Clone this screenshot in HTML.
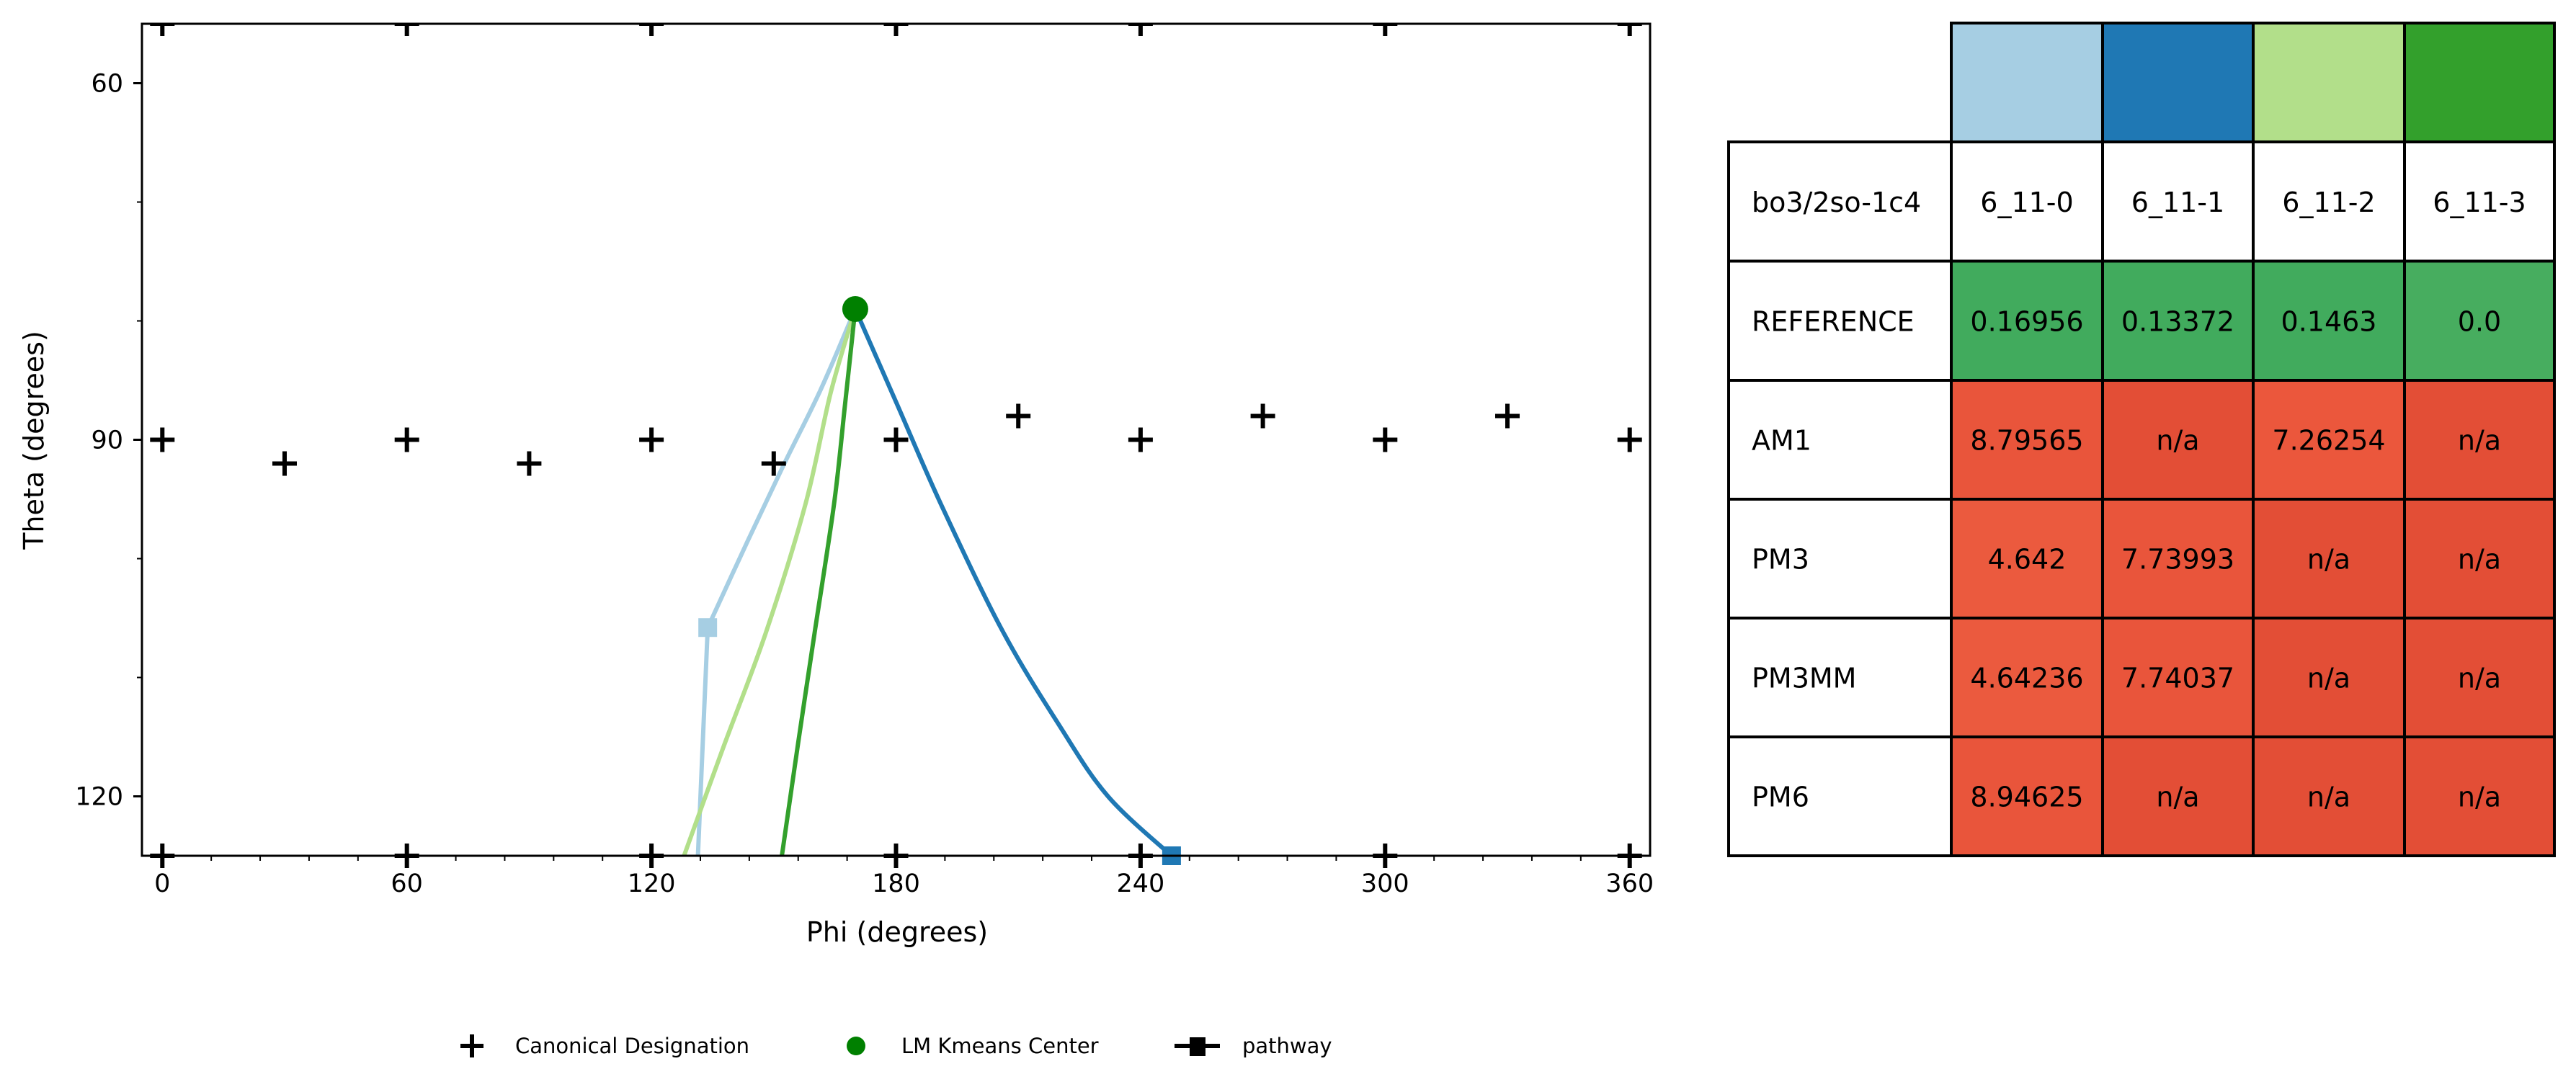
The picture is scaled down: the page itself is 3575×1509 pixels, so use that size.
<!DOCTYPE html>
<html><head><meta charset="utf-8"><style>
html,body{margin:0;padding:0;background:#fff;}
svg{display:block;font-family:"DejaVu Sans","Liberation Sans",sans-serif;}
</style></head><body>
<svg id="chart" width="3575" height="1509" viewBox="0 0 3575 1509">
<defs><clipPath id="axclip"><rect x="197" y="33" width="2093" height="1200"/></clipPath></defs>
<rect x="0" y="0" width="3575" height="1509" fill="#fff"/>
<g id="plot" clip-path="url(#axclip)"></g>
<rect x="197" y="33" width="2093" height="1155" fill="none" stroke="#000" stroke-width="3"/>
<g id="ticks"></g>
<text x="1245" y="1307" font-size="38" text-anchor="middle">Phi (degrees)</text>
<text x="0" y="0" font-size="38" text-anchor="middle" transform="translate(60,611) rotate(-90)">Theta (degrees)</text>
<g>
  <g>
    <path d="M639 1452 H671 M655 1436 V1468" stroke="#000" stroke-width="6"/>
    <text x="715" y="1462" font-size="29">Canonical Designation</text>
  </g>
  <g>
    <circle cx="1188" cy="1452" r="13" fill="#008000"/>
    <text x="1251" y="1462" font-size="29">LM Kmeans Center</text>
  </g>
  <g>
    <path d="M1630 1452 H1693" stroke="#000" stroke-width="6"/>
    <rect x="1651" y="1440" width="22" height="26" fill="#000"/>
    <text x="1724" y="1462" font-size="29">pathway</text>
  </g>
</g>
<g id="table"></g>
</svg>
<script>
const canonPhi = [0,30,60,90,120,150,180,210,240,270,300,330,360, 0,60,120,180,240,300,360, 0,60,120,180,240,300,360];
const canonTheta = [90,92,90,92,90,92,90,88,90,88,90,88,90, 55,55,55,55,55,55,55, 125,125,125,125,125,125,125];
const centerPhi = [170];
const centerTheta = [79];
const pathNames = ["6_11-0","6_11-1","6_11-2","6_11-3"];
const pathColors = ["#a6cee3","#1f78b4","#b2df8a","#33a02c"];
const path0Phi = [170,161.5,152.6,143.5,133.8,131.4];
const path0Theta = [79,85.8,92,98.6,105.8,125];
const path1Phi = [170,180.5,191,206,220,232,247.6];
const path1Theta = [79,87.2,95.4,106,114,120,125];
const path2Phi = [170,164,157.8,148,137.5,128];
const path2Theta = [79,86,95.4,106.3,116,125];
const path3Phi = [170,167.5,164.8,160,156,152];
const path3Theta = [79,87,95.4,106.3,115.5,125];
const pathEnds = [[4],[6],[],[]];
const xTicks = [0,60,120,180,240,300,360];
const yTicks = [60,90,120];
const tableCols = ["bo3/2so-1c4","6_11-0","6_11-1","6_11-2","6_11-3"];
const rowLabels = ["REFERENCE","AM1","PM3","PM3MM","PM6"];
const rowValues = [
 ["0.16956","0.13372","0.1463","0.0"],
 ["8.79565","n/a","7.26254","n/a"],
 ["4.642","7.73993","n/a","n/a"],
 ["4.64236","7.74037","n/a","n/a"],
 ["8.94625","n/a","n/a","n/a"]];
const rowColors = [
 ["#41ab5d","#41ab5d","#41ab5d","#47ad5f"],
 ["#e9553b","#e34e36","#eb573c","#e34e36"],
 ["#eb5a3e","#e9553b","#e34e36","#e34e36"],
 ["#eb5a3e","#e9553b","#e34e36","#e34e36"],
 ["#e9553b","#e34e36","#e34e36","#e34e36"]];

const NS="http://www.w3.org/2000/svg";
const X0=197,X1=2290,Y0=33,Y1=1188, XMIN=-5,XMAX=365,YMIN=55,YMAX=125;
const sx=v=>X0+(v-XMIN)/(XMAX-XMIN)*(X1-X0);
const sy=v=>Y0+(v-YMIN)/(YMAX-YMIN)*(Y1-Y0);
function mk(tag,attrs,parent){const e=document.createElementNS(NS,tag);for(const k in attrs)e.setAttribute(k,attrs[k]);parent.appendChild(e);return e;}
const plot=document.getElementById('plot');
const ticks=document.getElementById('ticks');

function smoothPath(pts,breaks){
  let d="M"+pts[0][0].toFixed(1)+" "+pts[0][1].toFixed(1);
  for(let i=0;i<pts.length-1;i++){
    const p1=pts[i],p2=pts[i+1];
    const p0=(i===0||breaks.includes(i))?p1:pts[i-1];
    const p3=(i+2>=pts.length||breaks.includes(i+1))?p2:pts[i+2];
    const c1=[p1[0]+(p2[0]-p0[0])/6,p1[1]+(p2[1]-p0[1])/6];
    const c2=[p2[0]-(p3[0]-p1[0])/6,p2[1]-(p3[1]-p1[1])/6];
    d+=`C${c1[0].toFixed(1)} ${c1[1].toFixed(1)} ${c2[0].toFixed(1)} ${c2[1].toFixed(1)} ${p2[0].toFixed(1)} ${p2[1].toFixed(1)}`;
  }
  return d;
}
const allPhi=[path0Phi,path1Phi,path2Phi,path3Phi];
const allTheta=[path0Theta,path1Theta,path2Theta,path3Theta];
for(let p=0;p<4;p++){
  const ph=allPhi[p],th=allTheta[p];
  const pts=ph.map((v,i)=>[sx(v),sy(th[i])]);
  const l=mk('path',{d:smoothPath(pts,pathEnds[p]),fill:'none',stroke:pathColors[p],'stroke-width':6,'stroke-linejoin':'round'},plot);
  
  
  for(const i of pathEnds[p]){
    const r=mk('rect',{x:sx(ph[i])-13,y:sy(th[i])-13,width:26,height:26,fill:pathColors[p]},plot);
    
    
  }
}
for(let i=0;i<canonPhi.length;i++){
  const x=sx(canonPhi[i]),y=sy(canonTheta[i]);
  const c=mk('path',{d:`M${x-17} ${y}H${x+17}M${x} ${y-17}V${y+17}`,stroke:'#000','stroke-width':6},plot);
  
  
}
for(let i=0;i<centerPhi.length;i++){
  const c=mk('circle',{cx:sx(centerPhi[i]),cy:sy(centerTheta[i]),r:18,fill:'#008000'},plot);
  
  
}
for(let v=0;v<=360;v+=12){
  const major=v%60===0;
  mk('line',{x1:sx(v),x2:sx(v),y1:Y1,y2:Y1+(major?12:7),stroke:'#000','stroke-width':major?3:2},ticks);
}
for(const v of xTicks){
  const t=mk('text',{x:sx(v),y:Y1+50,'font-size':35,'text-anchor':'middle'},ticks);
  t.textContent=v;
  
  
}
for(let v=60;v<=120;v+=10){
  const major=v%30===0;
  mk('line',{x1:X0,x2:X0-(major?12:7),y1:sy(v),y2:sy(v),stroke:'#000','stroke-width':major?3:2},ticks);
}
for(const v of yTicks){
  const t=mk('text',{x:X0-26,y:sy(v)+12,'font-size':35,'text-anchor':'end'},ticks);
  t.textContent=v;
  
  
}
const tb=document.getElementById('table');
const colX=[2399,2708,2918,3127,3337,3545];
const rowY=[32,197,362.5,528,693,858,1023,1188];
function cell(c,r,fill,text,align,name){
  const g=mk('g',{},tb);
  
  
  mk('rect',{x:colX[c],y:rowY[r],width:colX[c+1]-colX[c],height:rowY[r+1]-rowY[r],fill:fill,stroke:'#000','stroke-width':4},g);
  if(text!==null){
    const t=mk('text',{x:align==='left'?colX[c]+32:(colX[c]+colX[c+1])/2,y:(rowY[r]+rowY[r+1])/2+14,'font-size':38,'text-anchor':align==='left'?'start':'middle'},g);
    t.textContent=text;
  }
}
for(let j=0;j<4;j++)cell(j+1,0,pathColors[j],null,'mid','color-swatch-'+pathNames[j]);
for(let j=0;j<5;j++)cell(j,1,'#fff',tableCols[j],j?'mid':'left','column-header');
for(let r=0;r<rowLabels.length;r++){
  cell(0,r+2,'#fff',rowLabels[r],'left','row-label');
  for(let j=0;j<4;j++)cell(j+1,r+2,rowColors[r][j],rowValues[r][j],'mid','value-cell');
}
</script>
</body></html>
